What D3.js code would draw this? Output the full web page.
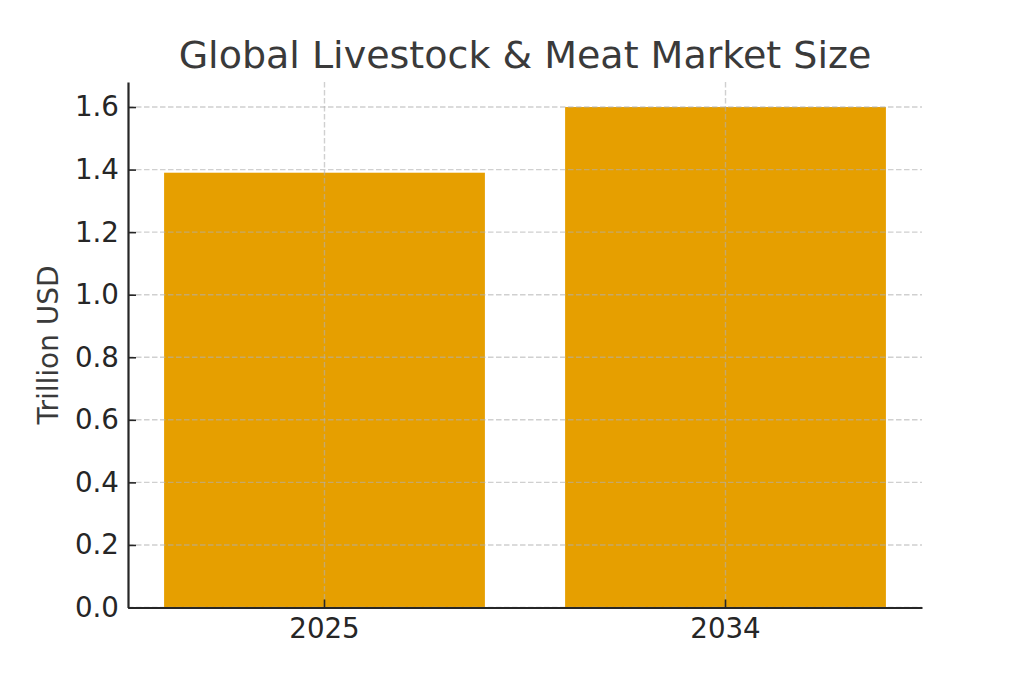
<!DOCTYPE html>
<html>
<head>
<meta charset="utf-8">
<script src="https://cdn.jsdelivr.net/npm/d3@7"></script>
<style>
  html, body { margin: 0; background: #fff; }
  text { font-family: "DejaVu Sans", sans-serif; }
</style>
</head>
<body>
<div id="chart"></div>
<script>
var years = ['2025', '2034'];
var marketSize = [1.39, 1.6];
var yTicks = [0, 0.2, 0.4, 0.6, 0.8, 1.0, 1.2, 1.4, 1.6];

var w = 1024;
var h = 683;
var plotLeft = 128, plotRight = 922, plotTop = 82, plotBottom = 607.5;

var svg = d3.select('#chart')
  .append('svg')
    .attr('width', w)
    .attr('height', h)
    .style('display', 'block');

var xScale = d3.scaleBand()
  .domain(years)
  .range([plotLeft, plotRight])
  .paddingInner(0.2)
  .paddingOuter(0.09);

var yScale = d3.scaleLinear()
  .domain([0, 1.68])
  .range([plotBottom, plotTop]);

// bars go under the grid
svg.selectAll('.bar')
  .data(marketSize)
  .enter().append('rect')
    .attr('class', 'bar')
    .attr('x', function (d, i) { return xScale(years[i]); })
    .attr('y', function (d) { return yScale(d); })
    .attr('width', xScale.bandwidth())
    .attr('height', function (d) { return plotBottom - yScale(d); })
    .attr('fill', '#e69f00');

var xAxis = d3.axisBottom(xScale).tickSizeInner(-8).tickSizeOuter(0).tickPadding(11);
var yAxis = d3.axisLeft(yScale)
  .tickValues(yTicks)
  .tickFormat(d3.format('.1f'))
  .tickSizeInner(-8)
  .tickSizeOuter(0)
  .tickPadding(9);

// grid lines
svg.append('g')
  .attr('class', 'grid')
  .selectAll('line')
  .data(yTicks)
  .enter().append('line')
    .attr('x1', plotLeft)
    .attr('x2', plotRight)
    .attr('y1', function (d) { return yScale(d); })
    .attr('y2', function (d) { return yScale(d); });

svg.select('.grid')
  .selectAll('line.v')
  .data(years)
  .enter().append('line')
    .attr('class', 'v')
    .attr('x1', function (d) { return xScale(d) + xScale.bandwidth() / 2; })
    .attr('x2', function (d) { return xScale(d) + xScale.bandwidth() / 2; })
    .attr('y1', plotTop)
    .attr('y2', plotBottom);

svg.selectAll('.grid line')
  .attr('stroke', '#b0b0b0')
  .attr('stroke-opacity', 0.6)
  .attr('stroke-width', 1.4)
  .attr('stroke-dasharray', '5.5,2.5');

var gx = svg.append('g')
  .attr('transform', 'translate(0,' + plotBottom + ')')
  .call(xAxis);

var gy = svg.append('g')
  .attr('transform', 'translate(' + plotLeft + ',0)')
  .call(yAxis);

svg.selectAll('.tick text')
  .attr('fill', '#262626')
  .style('font-size', '27.7px');
svg.selectAll('.tick line')
  .attr('stroke', '#262626')
  .attr('stroke-width', 1.6);
svg.selectAll('.domain')
  .attr('stroke', '#262626')
  .attr('stroke-width', 2.2);

svg.append('text')
  .attr('x', 525)
  .attr('y', 68)
  .attr('text-anchor', 'middle')
  .attr('fill', '#3a3a3a')
  .style('font-size', '38px')
  .text('Global Livestock & Meat Market Size');

svg.append('text')
  .attr('transform', 'translate(58,345) rotate(-90)')
  .attr('text-anchor', 'middle')
  .attr('fill', '#3a3a3a')
  .style('font-size', '28px')
  .text('Trillion USD');
</script>
</body>
</html>
